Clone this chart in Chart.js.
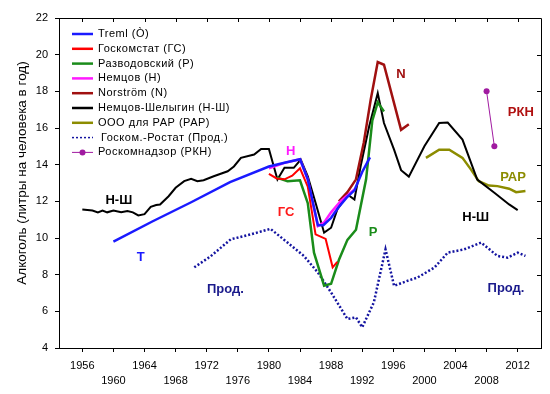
<!DOCTYPE html>
<html>
<head>
<meta charset="utf-8">
<script src="https://cdn.jsdelivr.net/npm/chart.js@4"></script>
<style>
  html, body { margin: 0; padding: 0; background: #fff; }
  #wrap { width: 550px; height: 394px; }
</style>
</head>
<body>
<div id="wrap"><canvas id="chart"></canvas></div>
<script>
const FONT = "'Liberation Sans', Arial, sans-serif";

// values (year, litres per person per year)
const tremlYears = [1960, 1965, 1970, 1975, 1980, 1982, 1984, 1985, 1986.3, 1987, 1988, 1989, 1990, 1991, 1992, 1993];
const tremlValues = [9.8, 10.9, 11.95, 13.05, 13.9, 14.1, 14.3, 13.2, 10.7, 10.7, 11.1, 11.7, 12.2, 12.6, 13.6, 14.4];

const gksYears = [1980, 1981, 1982, 1983, 1984, 1985, 1986, 1987.3, 1988.2, 1988.8];
const gksValues = [13.5, 13.25, 13.2, 13.4, 13.8, 12.8, 10.2, 9.95, 8.4, 8.7];

const razYears = [1981, 1982.4, 1984, 1985, 1985.8, 1987.1, 1988, 1989, 1990.1, 1991.2, 1992.5, 1993.3, 1994, 1994.8];
const razValues = [13.3, 13.1, 13.15, 11.9, 9.2, 7.4, 7.5, 8.8, 9.9, 10.45, 13.2, 16.4, 17.4, 16.9];

const nemYears = [1980, 1982, 1984, 1985, 1986.3, 1987.1, 1988, 1989.2, 1991];
const nemValues = [13.8, 14.1, 14.3, 13.2, 10.65, 10.85, 11.4, 12.0, 12.65];

const norYears = [1989, 1990.1, 1991.2, 1992.2, 1993.1, 1994, 1994.8, 1997, 1998];
const norValues = [12.0, 12.5, 13.2, 15.2, 17.55, 19.6, 19.45, 15.9, 16.2];

const nshYears = [1956, 1957.3, 1958, 1958.6, 1959.2, 1960, 1961, 1961.8, 1962.5, 1963.2, 1964, 1964.8, 1965.5, 1966, 1967.1, 1968, 1969.1, 1970, 1970.8, 1971.6, 1972.9, 1974.7, 1975.5, 1976.4, 1978.1, 1979, 1980, 1981.1, 1982, 1983.2, 1984.1, 1985, 1986, 1987.1, 1988, 1988.8, 1990.1, 1991, 1991.8, 1992.9, 1994, 1994.8, 1996.1, 1997, 1998, 2000, 2001.9, 2003, 2004.9, 2006.8, 2009, 2010.9, 2012];
const nshValues = [11.55, 11.5, 11.4, 11.5, 11.4, 11.5, 11.4, 11.47, 11.4, 11.23, 11.3, 11.7, 11.8, 11.83, 12.28, 12.74, 13.1, 13.23, 13.1, 13.15, 13.37, 13.64, 13.9, 14.37, 14.55, 14.86, 14.86, 13.19, 13.83, 13.83, 14.28, 13.37, 11.92, 10.29, 10.56, 11.56, 12.38, 12.1, 13.91, 16.09, 17.9, 16.27, 14.82, 13.7, 13.35, 15.0, 16.27, 16.3, 15.37, 13.19, 12.47, 11.83, 11.52];

const rapYears = [2000.2, 2001.9, 2003.2, 2004.9, 2006, 2007, 2008.3, 2009.4, 2010.9, 2011.8, 2013];
const rapValues = [14.37, 14.82, 14.82, 14.37, 13.73, 13.1, 12.86, 12.83, 12.69, 12.5, 12.56];

const prodYears = [1970.4, 1972.5, 1975.1, 1977.7, 1980.2, 1982.4, 1984.5, 1986.3, 1988, 1990.1, 1991.2, 1992, 1993.5, 1995, 1996.1, 1997.8, 1999.1, 2001.3, 2003, 2005.1, 2007.3, 2009.4, 2010.7, 2012, 2013];
const prodValues = [8.4, 9.0, 9.93, 10.2, 10.5, 9.75, 9.02, 8.12, 7.03, 5.58, 5.67, 5.13, 6.49, 9.38, 7.39, 7.66, 7.84, 8.39, 9.2, 9.38, 9.75, 9.02, 8.93, 9.2, 9.02];

const rknYears = [2008, 2009];
const rknValues = [18.0, 15.0];

const xTickYears = [1956, 1960, 1964, 1968, 1972, 1976, 1980, 1984, 1988, 1992, 1996, 2000, 2004, 2008, 2012];

// in-plot labels: text, year, value, colour
const curveLabels = [
  ['Н-Ш', 1960.7, 12.05, '#000000'],
  ['Т', 1963.5, 8.95, '#1a1aff'],
  ['Прод.', 1974.4, 7.2, '#1a1a8c'],
  ['ГС', 1982.2, 11.4, '#ff1a1a'],
  ['Н', 1982.8, 14.7, '#ff1aff'],
  ['N', 1997, 18.9, '#a01010'],
  ['Р', 1993.4, 10.3, '#1a8c1a'],
  ['РКН', 2012.4, 16.83, '#b01010'],
  ['РАР', 2011.4, 13.3, '#8c8c00'],
  ['Н-Ш', 2006.6, 11.1, '#000000'],
  ['Прод.', 2010.5, 7.25, '#1a1a8c']
];

function pts(xs, ys) {
  return xs.map((x, i) => ({ x: x, y: ys[i] }));
}

function series(label, xs, ys, color, width, extra) {
  return Object.assign({
    label: label,
    data: pts(xs, ys),
    borderColor: color,
    backgroundColor: color,
    borderWidth: width,
    pointRadius: 0,
    tension: 0,
    fill: false
  }, extra || {});
}

const datasets = [
  series('Treml (Ò)', tremlYears, tremlValues, '#1a1aff', 2.5),
  series('Госкомстат (ГС)', gksYears, gksValues, '#ff0000', 2),
  series('Разводовский (Р)', razYears, razValues, '#1a8c1a', 2.5),
  series('Немцов (Н)', nemYears, nemValues, '#ff1aff', 2.5),
  series('Norström (N)', norYears, norValues, '#a01010', 2.5),
  series('Немцов-Шелыгин (Н-Ш)', nshYears, nshValues, '#000000', 2),
  series('ООО для РАР (РАР)', rapYears, rapValues, '#8c8c00', 2.5),
  series('Госком.-Ростат (Прод.)', prodYears, prodValues, '#1414a0', 2.5, { borderDash: [2, 2] }),
  series('Роскомнадзор (РКН)', rknYears, rknValues, '#a01aa0', 1, { pointRadius: 3, pointBorderWidth: 0 })
];

// box, ticks on top and right, legend, axis title and curve labels
const decor = {
  id: 'decor',
  afterDraw(chart) {
    const ctx = chart.ctx;
    const a = chart.chartArea;
    const xs = chart.scales.x, ys = chart.scales.y;
    ctx.save();
    ctx.strokeStyle = '#000';
    ctx.lineWidth = 1;
    ctx.beginPath();
    ctx.moveTo(a.left, a.top + 0.5);
    ctx.lineTo(a.right + 0.5, a.top + 0.5);
    ctx.lineTo(a.right + 0.5, a.bottom);
    for (const t of xs.ticks) {
      const px = Math.round(xs.getPixelForValue(t.value)) + 0.5;
      ctx.moveTo(px, a.top);
      ctx.lineTo(px, a.top + 4);
    }
    for (const t of ys.ticks) {
      const py = Math.round(ys.getPixelForValue(t.value)) + 0.5;
      ctx.moveTo(a.right, py);
      ctx.lineTo(a.right - 4, py);
    }
    ctx.stroke();

    // legend
    ctx.font = '11px ' + FONT;
    ctx.letterSpacing = '0.5px';
    ctx.textBaseline = 'middle';
    ctx.textAlign = 'left';
    chart.data.datasets.forEach((ds, i) => {
      const y = a.top + 16 + i * 14.8;
      ctx.strokeStyle = ds.borderColor;
      ctx.lineWidth = ds.borderDash ? 1.5 : 2.5;
      if (ds.label.startsWith('Роском')) ctx.lineWidth = 1;
      ctx.setLineDash(ds.borderDash ? [2, 2] : []);
      ctx.beginPath();
      ctx.moveTo(a.left + 13, y);
      ctx.lineTo(a.left + 34, y);
      ctx.stroke();
      ctx.setLineDash([]);
      if (ds.pointRadius) {
        ctx.fillStyle = ds.borderColor;
        ctx.beginPath();
        ctx.arc(a.left + 23.5, y, 3, 0, Math.PI * 2);
        ctx.fill();
      }
      ctx.fillStyle = '#000';
      ctx.fillText(ds.label, a.left + (ds.borderDash ? 42 : 39), y);
    });
    ctx.letterSpacing = '0px';

    // curve labels
    ctx.font = 'bold 13px ' + FONT;
    ctx.textAlign = 'center';
    for (const [txt, x, y, col] of curveLabels) {
      ctx.fillStyle = col;
      ctx.fillText(txt, xs.getPixelForValue(x), ys.getPixelForValue(y));
    }

    // y axis title
    ctx.translate(22, 173);
    ctx.rotate(-Math.PI / 2);
    ctx.font = '13.5px ' + FONT;
    ctx.fillStyle = '#000';
    ctx.fillText('Алкоголь (литры на человека в год)', 0, 0);
    ctx.restore();
  }
};

new Chart(document.getElementById('chart'), {
  type: 'line',
  data: { datasets: datasets },
  options: {
    responsive: true,
    maintainAspectRatio: false,
    animation: false,
    layout: { padding: { top: 18, right: 9, left: 0, bottom: 0 } },
    plugins: {
      legend: { display: false },
      tooltip: { enabled: false }
    },
    scales: {
      x: {
        type: 'linear',
        min: 1953,
        max: 2015,
        afterBuildTicks: (scale) => {
          scale.ticks = xTickYears.map(v => ({ value: v }));
        },
        afterFit: (scale) => { scale.height = 46; },
        grid: { drawOnChartArea: false, drawTicks: true, tickLength: 4, color: '#000' },
        border: { color: '#000', width: 1 },
        ticks: {
          color: '#000',
          font: { family: FONT, size: 11, lineHeight: 1.35 },
          padding: 7,
          maxRotation: 0,
          autoSkip: false,
          callback: (v) => {
            const i = xTickYears.indexOf(v);
            return i % 2 === 0 ? String(v) : ['', String(v)];
          }
        }
      },
      y: {
        min: 4,
        max: 22,
        afterFit: (scale) => { scale.width = 59; },
        grid: { drawOnChartArea: false, drawTicks: true, tickLength: 4, color: '#000' },
        border: { color: '#000', width: 1 },
        ticks: {
          stepSize: 2,
          color: '#000',
          font: { family: FONT, size: 11 },
          padding: 7
        }
      }
    }
  },
  plugins: [decor]
});
</script>
</body>
</html>
